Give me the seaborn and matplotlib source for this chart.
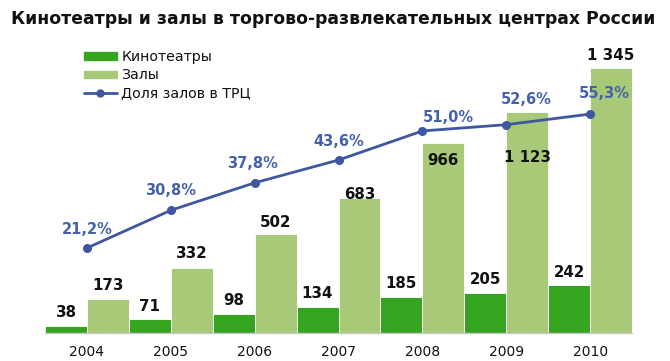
import matplotlib
matplotlib.use("Agg")
import matplotlib.pyplot as plt
import matplotlib.patches as mpatches
import matplotlib.lines as mlines
import numpy as np
import pandas as pd
import seaborn as sns

years = ["2004", "2005", "2006", "2007", "2008", "2009", "2010"]
cinemas = [38, 71, 98, 134, 185, 205, 242]
halls = [173, 332, 502, 683, 966, 1123, 1345]
share = [21.2, 30.8, 37.8, 43.6, 51.0, 52.6, 55.3]
series_names = ["Кинотеатры", "Залы", "Доля залов в ТРЦ"]
title = "Кинотеатры и залы в торгово-развлекательных центрах России"

# label offsets (pixels, label centre relative to bar top / point)
hall_label_off = [13, 14, 12, 4, -18, -46, 13]
cin_label_off = [13] * 7
share_label_off = [(0, 19), (0, 20), (-2, 19), (0, 19), (26, 13), (20, 25), (14, 21)]

c_dark = "#35a41f"
c_light = "#a8ca78"
c_line = "#3f56a0"
c_ptxt = "#4462ab"

sns.set_theme(style="white")
plt.rcParams["font.family"] = ["DejaVu Sans"]

fig = plt.figure(figsize=(6.7, 3.61), dpi=100)
ax = fig.add_axes([45 / 670, (361 - 333) / 361, 587 / 670, 303 / 361])

df = pd.DataFrame({
    "year": years * 2,
    "series": [series_names[0]] * len(years) + [series_names[1]] * len(years),
    "value": cinemas + halls,
})
sns.barplot(data=df, x="year", y="value", hue="series", order=years,
            hue_order=series_names[:2], palette=[c_dark, c_light],
            width=1.0, dodge=True, ax=ax, legend=False,
            edgecolor="white", linewidth=0.6, saturation=1)

ax.set_ylim(0, 1538)
ax.set_xlim(-0.5, len(years) - 0.5)
ax.set_xlabel("")
ax.set_ylabel("")
ax.set_yticks([])
for s in ["top", "right", "left"]:
    ax.spines[s].set_visible(False)
ax.spines["bottom"].set_color("#c8c8c8")
ax.spines["bottom"].set_linewidth(1)
ax.set_xticks(range(len(years)))
ax.set_xticklabels(years, fontsize=10, color="#111111")
ax.tick_params(axis="x", which="major", length=0, pad=9)
ax.set_xticks(np.arange(-0.5, len(years), 1.0), minor=True)
ax.tick_params(axis="x", which="minor", length=5, color="#c8c8c8", width=1)

px = 72 / 100
bars_c = ax.containers[0]
bars_h = ax.containers[1]


def fmt(v):
    return f"{v:,}".replace(",", " ")


for rect, v, off in zip(bars_c, cinemas, cin_label_off):
    ax.annotate(fmt(v), (rect.get_x() + rect.get_width() / 2, rect.get_height()),
                xytext=(0, off * px), textcoords="offset points",
                ha="center", va="center", fontsize=10.8, fontweight="bold",
                color="#111111")
for rect, v, off in zip(bars_h, halls, hall_label_off):
    ax.annotate(fmt(v), (rect.get_x() + rect.get_width() / 2, rect.get_height()),
                xytext=(0, off * px), textcoords="offset points",
                ha="center", va="center", fontsize=10.8, fontweight="bold",
                color="#111111")

ax2 = ax.twinx()
sdf = pd.DataFrame({"year": years, "share": share})
sns.pointplot(data=sdf, x="year", y="share", order=years, color=c_line,
              markers="o", markersize=5, linewidth=2, ax=ax2)
ax2.set_xlim(-0.5, len(years) - 0.5)
ax2.set_ylim(-0.43, 76.7)
ax2.set_yticks([])
ax2.set_ylabel("")
ax2.set_xlabel("")
for s in ax2.spines.values():
    s.set_visible(False)
for i, (v, (dx, dy)) in enumerate(zip(share, share_label_off)):
    ax2.annotate(f"{v:.1f}%".replace(".", ","), (i, v),
                 xytext=(dx * px, dy * px), textcoords="offset points",
                 ha="center", va="center", fontsize=10.5, fontweight="bold",
                 color=c_ptxt)

handles = [
    mpatches.Patch(color=c_dark, label=series_names[0]),
    mpatches.Patch(color=c_light, label=series_names[1]),
    mlines.Line2D([], [], color=c_line, marker="o", markersize=5, linewidth=2,
                  label=series_names[2]),
]
ax.legend(handles=handles, loc="upper left", bbox_to_anchor=(0.066, 0.934),
          frameon=False, fontsize=10.2, handlelength=2.35, handleheight=0.4,
          labelspacing=0.3, handletextpad=0.3, borderaxespad=0,
          borderpad=0, labelcolor="#111111")

fig.text(333.5 / 670, 1 - 19 / 361, title, ha="center", va="center",
         fontsize=12.4, fontweight="bold", color="#111111")

fig.savefig("out.png", dpi=100, facecolor="white")
